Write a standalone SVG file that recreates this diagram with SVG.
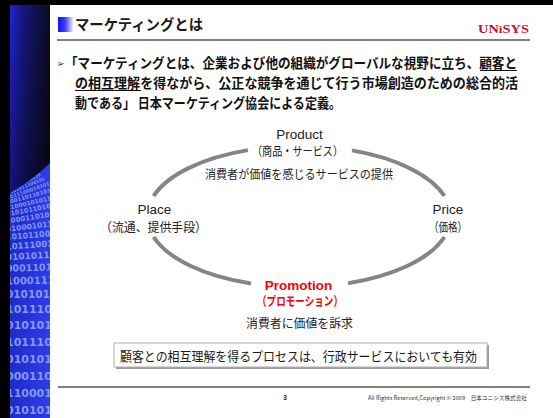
<svg xmlns="http://www.w3.org/2000/svg" width="553" height="418" viewBox="0 0 553 418">
  <style>
    .jp { font-family: "Noto Sans CJK JP", "Liberation Sans", sans-serif; }
    .lat { font-family: "Liberation Sans", "Noto Sans CJK JP", sans-serif; }
    .ink { fill: #1a1a1a; }
    .red { fill: #ff0000; font-weight: bold; }
    .lead { font-size: 13.5px; font-weight: bold; fill: #111; }
    .lbl { font-size: 13.5px; fill: #222; }
    .sub { font-size: 12.5px; fill: #222; }
    .ring { fill: none; stroke: #858585; stroke-width: 4; stroke-linecap: butt; }
    .bits { font-family: "DejaVu Sans", "Liberation Sans", sans-serif; font-weight: bold; fill: #a9b8ff; fill-opacity: 0.75; }
    .ul { stroke: #111; stroke-width: 1.1; }
  </style>
  <defs>
    <linearGradient id="bandH" x1="0" y1="0" x2="1" y2="0">
      <stop offset="0" stop-color="#2222d6"/>
      <stop offset="0.35" stop-color="#16167c"/>
      <stop offset="1" stop-color="#0b0b1d"/>
    </linearGradient>
    <linearGradient id="bandV" gradientUnits="userSpaceOnUse" x1="0" y1="5" x2="0" y2="200">
      <stop offset="0" stop-color="#000" stop-opacity="0"/>
      <stop offset="1" stop-color="#000" stop-opacity="0.45"/>
    </linearGradient>
    <linearGradient id="bitsBg" x1="0" y1="0" x2="1" y2="0">
      <stop offset="0" stop-color="#1e2cc8"/>
      <stop offset="0.6" stop-color="#2536dc"/>
      <stop offset="1" stop-color="#2c3ee4"/>
    </linearGradient>
    <linearGradient id="titleMark" x1="0" y1="0" x2="1" y2="0">
      <stop offset="0" stop-color="#1212ff"/>
      <stop offset="0.45" stop-color="#3a3aff"/>
      <stop offset="1" stop-color="#e6e6ff"/>
    </linearGradient>
    <clipPath id="bitsClip">
      <path d="M10,193 Q30,182 50,163 L50,418 L10,418 Z"/>
    </clipPath>
  </defs>

  <rect width="553" height="418" fill="#ffffff"/>

  <!-- slide frame and side band -->
  <g id="frame">
    <rect x="0" y="0" width="553" height="5" fill="#000"/>
    <rect x="0" y="0" width="10" height="418" fill="#000"/>
    <rect x="10" y="5" width="40" height="413" fill="url(#bandH)"/>
    <rect x="10" y="5" width="40" height="413" fill="url(#bandV)"/>
    <g clip-path="url(#bitsClip)">
      <rect x="10" y="150" width="40" height="268" fill="url(#bitsBg)"/>
      <g class="bits">
        <text x="6" y="176" font-size="3.5" transform="rotate(-28 30 176)">0101011001010</text>
        <text x="6" y="181" font-size="4" transform="rotate(-25 30 181)">1000111010110</text>
        <text x="6" y="186" font-size="4.5" transform="rotate(-22 30 186)">0101011100101</text>
        <text x="6" y="192" font-size="5" transform="rotate(-19 30 192)">1011100010101</text>
        <text x="6" y="198" font-size="5.5" transform="rotate(-16 30 198)">0001101101011</text>
        <text x="6" y="205" font-size="6" transform="rotate(-13 30 205)">1100010101110</text>
        <text x="6" y="212" font-size="6.5" transform="rotate(-11 30 212)">0101011010001</text>
        <text x="6" y="220" font-size="7" transform="rotate(-9 30 220)">1000110101110</text>
        <text x="6" y="229" font-size="7.5" transform="rotate(-7 30 229)">0100010110111</text>
        <text x="6" y="238" font-size="8" transform="rotate(-5 30 238)">1010110011010</text>
        <text x="6" y="248" font-size="8.5" transform="rotate(-4 30 248)">1011100101011</text>
        <text x="6" y="259" font-size="9" transform="rotate(-3 30 259)">0101011100011</text>
        <text x="6" y="271" font-size="9.5" transform="rotate(-2 30 271)">0001101010110</text>
        <text x="6" y="284" font-size="10" transform="rotate(-1 30 284)">1000111011010</text>
        <text x="6" y="298" font-size="10.5">0101011100101</text>
        <text x="6" y="313" font-size="11">1011100101011</text>
        <text x="6" y="329" font-size="11">0101011000110</text>
        <text x="6" y="346" font-size="11">1011100110001</text>
        <text x="6" y="363" font-size="11">0101011101010</text>
        <text x="6" y="380" font-size="11">0001101011100</text>
        <text x="6" y="397" font-size="11">1100011101010</text>
        <text x="6" y="414" font-size="11">0101010110001</text>
      </g>
    </g>
  </g>

  <!-- heading -->
  <g id="heading">
    <rect x="58" y="17" width="15" height="15" fill="url(#titleMark)"/>
    <text class="jp ink" x="75" y="30" font-size="15" font-weight="bold" textLength="128" lengthAdjust="spacingAndGlyphs">マーケティングとは</text>
    <text x="478" y="33" font-family="Liberation Serif, serif" font-weight="bold" font-size="12" fill="#c8102e" textLength="51" lengthAdjust="spacingAndGlyphs">UN<tspan font-size="11">i</tspan>SYS</text>
    <line x1="57" y1="40" x2="530" y2="40" stroke="#000" stroke-width="1.2"/>
  </g>

  <!-- definition text -->
  <g id="definition">
    <text x="56.5" y="67" font-family="DejaVu Sans, sans-serif" font-size="10" fill="#3030c0">➢</text>
    <text class="jp lead" x="65" y="68" textLength="452" lengthAdjust="spacingAndGlyphs">「マーケティングとは、企業および他の組織がグローバルな視野に立ち、顧客と</text>
    <line class="ul" x1="480" y1="70.5" x2="517" y2="70.5"/>
    <text class="jp lead" x="75" y="88" textLength="443" lengthAdjust="spacingAndGlyphs">の相互理解を得ながら、公正な競争を通じて行う市場創造のための総合的活</text>
    <line class="ul" x1="75" y1="90.5" x2="141" y2="90.5"/>
    <text class="jp lead" x="75" y="108" textLength="266" lengthAdjust="spacingAndGlyphs">動である」 日本マーケティング協会による定義。</text>
  </g>

  <!-- cycle ring -->
  <g id="connectors">
    <path class="ring" d="M153.6,196 A152,70.5 0 0 1 248,150.1"/>
    <path class="ring" d="M352,150.4 A152,70.5 0 0 1 444.4,196"/>
    <path class="ring" d="M444.4,237 A152,70.5 0 0 1 348,283.2"/>
    <path class="ring" d="M251,283.4 A152,70.5 0 0 1 153.6,237"/>
  </g>

  <g id="product">
    <text class="lat lbl" x="299.5" y="139" text-anchor="middle">Product</text>
    <text class="jp sub" x="297.5" y="156" text-anchor="middle" textLength="91" lengthAdjust="spacingAndGlyphs">（商品・サービス）</text>
    <text class="jp sub" x="299" y="179" text-anchor="middle" textLength="188" lengthAdjust="spacingAndGlyphs">消費者が価値を感じるサービスの提供</text>
  </g>

  <g id="place">
    <text class="lat lbl" x="154.5" y="214" text-anchor="middle">Place</text>
    <text class="jp sub" x="153.5" y="231.5" text-anchor="middle" textLength="107" lengthAdjust="spacingAndGlyphs">（流通、提供手段）</text>
  </g>

  <g id="price">
    <text class="lat lbl" x="448" y="214" text-anchor="middle">Price</text>
    <text class="jp sub" x="448" y="231.5" text-anchor="middle" textLength="38" lengthAdjust="spacingAndGlyphs">（価格）</text>
  </g>

  <g id="promotion">
    <text class="lat red" x="298.5" y="289.5" font-size="13.5" text-anchor="middle">Promotion</text>
    <text class="jp red" x="300" y="306" font-size="12.5" text-anchor="middle" textLength="86" lengthAdjust="spacingAndGlyphs">（プロモーション）</text>
    <text class="jp sub" x="299.5" y="328" text-anchor="middle" textLength="107" lengthAdjust="spacingAndGlyphs">消費者に価値を訴求</text>
  </g>

  <!-- conclusion box -->
  <g id="conclusion">
    <rect x="116" y="345" width="373" height="24" fill="#9a9a9a"/>
    <rect x="114" y="343" width="373" height="24" fill="#fff" stroke="#b0b0b0" stroke-width="1"/>
    <text class="jp" x="120" y="361" font-size="13" fill="#1a1a1a" textLength="357" lengthAdjust="spacingAndGlyphs">顧客との相互理解を得るプロセスは、行政サービスにおいても有効</text>
  </g>

  <!-- footer -->
  <g id="footer">
    <line x1="58" y1="387" x2="530" y2="387" stroke="#000" stroke-width="1.2"/>
    <text class="lat" x="285" y="400" font-size="6.5" font-weight="bold" fill="#222" text-anchor="middle">3</text>
    <text class="jp" x="368" y="400" font-size="5.5" fill="#333" textLength="159" lengthAdjust="spacingAndGlyphs">All Rights Reserved,Copyright © 2009　日本ユニシス株式会社</text>
  </g>
</svg>
